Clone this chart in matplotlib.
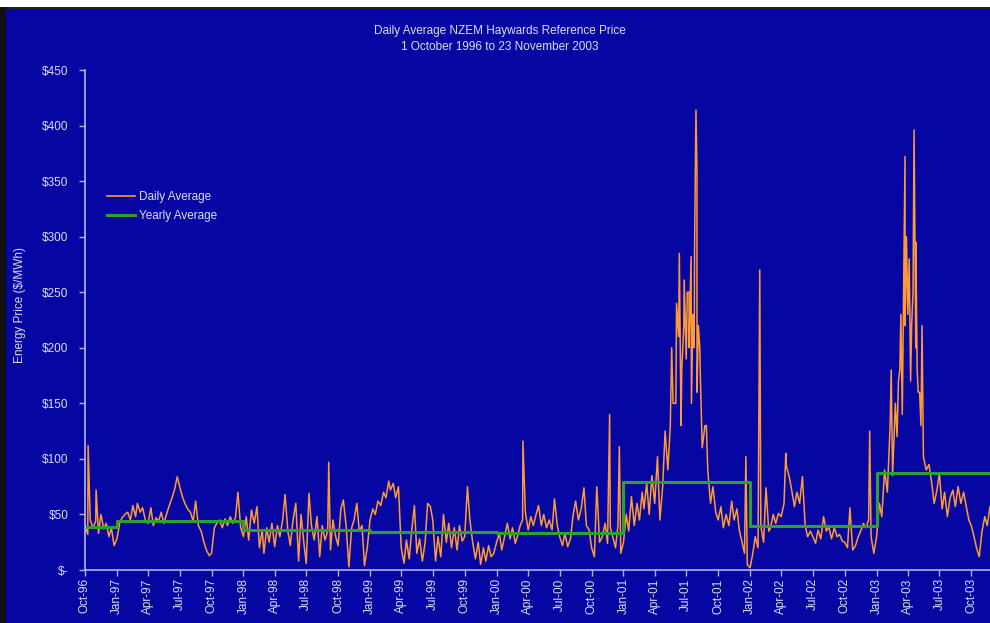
import matplotlib
matplotlib.use("Agg")
import matplotlib.pyplot as plt
import matplotlib.dates as mdates
from matplotlib.patches import Rectangle
import pandas as pd

# four readings a month (about the 1st, 9th, 16th and 24th)
daily_1996 = [40, 32, 45, 38,  44, 33, 50, 37,  42, 30, 38, 22]
daily_1997 = [28, 42, 47, 50,  52, 45, 58, 48,  60, 52, 56, 45,  42, 56, 40, 47,
              44, 52, 42, 50,  58, 65, 72, 84,  75, 66, 60, 55,  52, 44, 62, 40,
              35, 25, 18, 13,  15, 38, 42, 45,  38, 46, 40, 48,  42, 47, 70, 38]
daily_1998 = [30, 48, 27, 54,  42, 57, 20, 36,  15, 38, 25, 42,  21, 40, 30, 45,
              68, 35, 22, 45,  60, 8, 50, 25,   6, 69, 40, 27,   48, 12, 40, 27,
              35, 18, 45, 30,  22, 55, 63, 40,  3, 38, 45, 60,   35, 40, 4, 20]
daily_1999 = [45, 55, 50, 62,  58, 70, 65, 80,  72, 78, 65, 75,  20, 6, 27, 10,
              35, 58, 15, 28,  8, 25, 60, 57,   45, 8, 30, 12,   50, 25, 42, 20,
              38, 18, 40, 26,  30, 75, 45, 25,  10, 25, 5, 20,   8, 22, 12, 15]
daily_2000 = [25, 33, 18, 30,  42, 28, 38, 24,  30, 40, 45, 52,  36, 48, 40, 50,
              58, 40, 50, 38,  45, 36, 64, 40,  30, 22, 33, 21,  28, 50, 62, 45,
              55, 74, 40, 36,  20, 12, 75, 25,  30, 42, 24, 38,  30, 20, 40, 15]
daily_2001 = [25, 50, 35, 66,  40, 60, 45, 70,  55, 78, 50, 85,  60, 102, 45, 75,
              125, 90, 130, 150,  150, 210, 130, 220,  190, 250, 150, 200,
              160, 200, 110, 130,  90, 60, 75, 52,  45, 57, 38, 50,
              40, 62, 45, 55,  36, 25, 15, 5]
daily_2002 = [2, 15, 30, 20,  40, 25, 74, 35,  38, 50, 42, 51,  48, 60, 93, 84,
              72, 57, 70, 60,  84, 40, 30, 35,  30, 24, 36, 28,  48, 35, 39, 28,
              38, 30, 32, 26,  25, 20, 56, 18,  22, 30, 35, 42,  38, 45, 30, 15]
daily_2003 = [30, 60, 48, 90,  70, 130, 85, 150,  120, 180, 140, 220,
              230, 170, 250, 200,  160, 130, 102, 90,  95, 78, 60, 72,
              87, 55, 70, 48,  65, 72, 57, 75,  60, 70, 58, 45,
              40, 30, 20, 12,  35, 48, 40, 57]
year_starts = ['1996-10-01', '1997-01-01', '1998-01-01', '1999-01-01',
               '2000-01-01', '2001-01-01', '2002-01-01', '2003-01-01']

# single-day spikes and extra readings in the busy winters
spike_dates = ['1996-10-10', '1996-11-02', '1998-09-04', '2000-03-17', '2000-11-22',
               '2000-12-20', '2001-05-20', '2001-06-03', '2001-06-11', '2001-06-18',
               '2001-06-25', '2001-07-04', '2001-07-09', '2001-07-15', '2001-07-20',
               '2001-07-25', '2001-07-29', '2001-08-01', '2001-08-05', '2001-08-11',
               '2001-08-28', '2001-12-20', '2002-01-29', '2002-04-14', '2002-12-12',
               '2003-02-12', '2003-03-05', '2003-03-12', '2003-03-24', '2003-03-28',
               '2003-04-05', '2003-04-12', '2003-04-19', '2003-04-24', '2003-04-28',
               '2003-05-05', '2003-05-12']
spike_values = [112, 72, 97, 116, 140, 111, 200, 240, 285, 180,
                261, 250, 200, 282, 230, 291, 414, 357, 220, 170,
                130, 102, 270, 105, 125, 180, 170, 230, 372, 300,
                280, 220, 396, 295, 180, 160, 220]

yearly_avg = [39, 44, 36, 34, 33, 79, 40, 87]
end_date = '2003-11-23'

ytick_vals = [0, 50, 100, 150, 200, 250, 300, 350, 400, 450]
ytick_labels = ['$-', '$50', '$100', '$150', '$200', '$250', '$300', '$350', '$400', '$450']

BG = '#0606A2'
TXT = '#DCDCF2'
AXC = '#B4B4E6'
ORANGE = '#FF9A35'
GREEN = '#2EA030'

plt.rcParams['font.family'] = ['Liberation Sans', 'DejaVu Sans']


def month_points(start, values):
    months = pd.date_range(start, periods=len(values) // 4, freq='MS')
    offs = pd.to_timedelta([0, 8, 15, 23], unit='D')
    return [m + o for m in months for o in offs]


parts = [(year_starts[0], daily_1996), (year_starts[1], daily_1997),
         (year_starts[2], daily_1998), (year_starts[3], daily_1999),
         (year_starts[4], daily_2000), (year_starts[5], daily_2001),
         (year_starts[6], daily_2002), (year_starts[7], daily_2003)]
dates, vals = [], []
for start, v in parts:
    dates += month_points(start, v)
    vals += v
dates += list(pd.to_datetime(spike_dates))
vals += spike_values
daily = pd.Series(vals, index=pd.DatetimeIndex(dates)).sort_index()

fig = plt.figure(figsize=(9.9, 6.23), dpi=100, facecolor=BG)
ax = fig.add_axes([85 / 990, 53 / 623, 905 / 990, 500 / 623])
ax.set_facecolor(BG)

ax.plot(daily.index, daily.values, color=ORANGE, lw=1.1, label='Daily Average')
step_x = pd.to_datetime(year_starts + [end_date])
step_y = yearly_avg + [yearly_avg[-1]]
ax.step(step_x, step_y, where='post', color=GREEN, lw=2.2, label='Yearly Average')

ax.set_ylim(0, 450)
ax.set_xlim(pd.Timestamp('1996-10-01'), pd.Timestamp('2003-11-24'))
ax.set_yticks(ytick_vals)
ax.set_yticklabels(ytick_labels)
ax.xaxis.set_major_locator(mdates.MonthLocator(bymonth=[1, 4, 7, 10], bymonthday=1))
ax.xaxis.set_major_formatter(mdates.DateFormatter('%b-%y'))
for lab in ax.get_xticklabels():
    lab.set_rotation(90)
    lab.set_va('top')
    lab.set_ha('center')

for s in ['top', 'right']:
    ax.spines[s].set_visible(False)
for s in ['left', 'bottom']:
    ax.spines[s].set_color(AXC)
    ax.spines[s].set_linewidth(1.2)
ax.tick_params(axis='both', colors=AXC, labelcolor=TXT, labelsize=8.5,
               direction='out', length=4, width=1)
ax.tick_params(axis='y', pad=8)
ax.tick_params(axis='x', pad=2)

fig.text(20 / 990, 1 - 305 / 623, 'Energy Price ($/MWh)', rotation=90,
         color=TXT, fontsize=8.5, ha='center', va='center')
fig.text(500 / 990, 1 - 31 / 623, 'Daily Average NZEM Haywards Reference Price',
         color=TXT, fontsize=8.5, ha='center', va='center')
fig.text(500 / 990, 1 - 47 / 623, '1 October 1996 to 23 November 2003',
         color=TXT, fontsize=8.5, ha='center', va='center')

leg = ax.legend(loc='upper left', bbox_to_anchor=(107 / 990, 1 - 191 / 623),
                bbox_transform=fig.transFigure, frameon=False, fontsize=8.5,
                handlelength=2.4, handletextpad=0.3, labelspacing=0.6,
                borderpad=0, borderaxespad=0)
for t in leg.get_texts():
    t.set_color(TXT)
leg.get_lines()[0].set_linewidth(1.2)

# white strip on top, dark frame lines
fig.patches.append(Rectangle((0, 1 - 7 / 623), 1, 7 / 623, transform=fig.transFigure,
                             facecolor='white', edgecolor='none', zorder=5))
fig.patches.append(Rectangle((0, 1 - 9 / 623), 1, 2 / 623, transform=fig.transFigure,
                             facecolor='#202020', edgecolor='none', zorder=5))
fig.patches.append(Rectangle((0, 0), 6 / 990, 1 - 7 / 623, transform=fig.transFigure,
                             facecolor='#101010', edgecolor='none', zorder=5))

fig.savefig('out.png', dpi=100, facecolor=BG)
